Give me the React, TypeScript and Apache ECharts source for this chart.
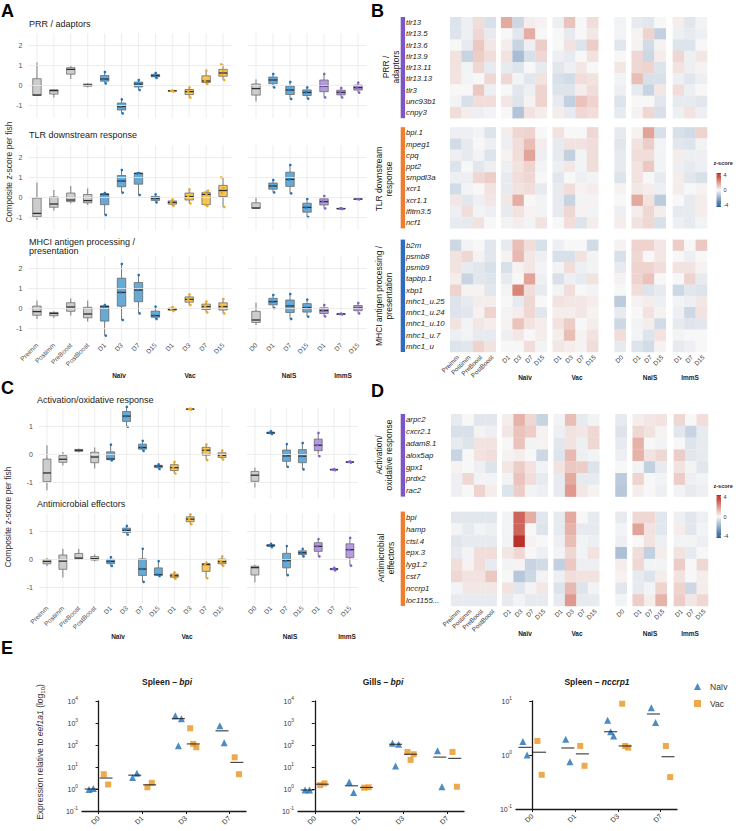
import React, { useEffect, useRef } from 'react';
import * as echarts from 'echarts';

const FONT = '"Liberation Sans", Arial, Helvetica, sans-serif';
const WIDTH = 738;
const HEIGHT = 831;

// ---------------- Composite z-score per fish (A, C) ----------------
const LEFT_CATS = ['Preimm', 'Postimm', 'PreBoost', 'PostBoost', 'D1', 'D3', 'D7', 'D15', 'D1', 'D3', 'D7', 'D15'];
const RIGHT_CATS = ['D0', 'D1', 'D7', 'D15', 'D1', 'D7', 'D15'];
const LEFT_GROUPS = ['ctrl', 'ctrl', 'ctrl', 'ctrl', 'naiv', 'naiv', 'naiv', 'naiv', 'vac', 'vac', 'vac', 'vac'];
const RIGHT_GROUPS = ['ctrl', 'naiv', 'naiv', 'naiv', 'imms', 'imms', 'imms'];
const Y_TICKS_A = [-1, 0, 1, 2];
const Y_TICKS_C = [-1, 0, 1];
const GROUP_NAMES = ['Naïv', 'Vac', 'NaïS', 'ImmS'];

const PRR_LEFT = [
  [-0.53, -0.5, 1.13], [-0.63, -0.28, -0.2], [0.3, 0.78, 0.95], [-0.12, 0.0, 0.1],
  [0.08, 0.3, 0.65], [-1.42, -1.08, -0.72], [-0.25, 0.05, 0.25], [0.35, 0.47, 0.6],
  [-0.33, -0.29, -0.27], [-0.63, -0.33, -0.12], [0.05, 0.2, 0.72], [0.25, 0.5, 0.7, 1.03],
];
const PRR_RIGHT = [
  [-0.83, -0.18, 0.28], [-0.12, 0.25, 0.55], [-0.7, -0.25, 0.15], [-0.68, -0.37, -0.12],
  [-0.62, -0.05, 0.55], [-0.62, -0.37, -0.15], [-0.38, -0.13, 0.12],
];
const TLR_LEFT = [
  [-1.15, -0.82, 0.72], [-0.68, -0.35, 0.35], [-0.32, -0.15, 0.55], [-0.4, -0.18, 0.43],
  [-0.9, 0.13, 0.2], [0.22, 0.8, 1.35], [0.1, 1.18, 1.2], [-0.27, -0.07, 0.13],
  [-0.45, -0.27, -0.12], [-0.32, 0.02, 0.38], [-0.45, -0.38, 0.13, 0.22, 0.32], [-0.5, 0.2, 0.45, 0.98],
];
const TLR_RIGHT = [
  [-0.57, -0.55, -0.03], [0.23, 0.55, 0.85], [0.18, 0.88, 1.6], [-1.0, -0.52, -0.1],
  [-0.57, -0.23, 0.05], [-0.6, -0.58, -0.56], [-0.12, -0.1, -0.09],
];
const MHCI_LEFT = [
  [-0.55, -0.18, 0.37], [-0.5, -0.27, -0.17], [-0.38, 0.05, 0.48], [-0.68, -0.3, 0.37],
  [-1.38, 0.07, 0.15], [-0.6, 0.78, 2.2], [-0.27, 0.9, 1.65], [-0.55, -0.38, 0.07],
  [-0.15, -0.07, 0.05], [0.15, 0.43, 0.68], [-0.22, 0.07, 0.32], [-0.27, 0.07, 0.45],
];
const MHCI_RIGHT = [
  [-0.85, -0.6, 0.27], [0, 0.32, 0.65], [-0.55, 0.1, 0.7], [-0.43, 0.02, 0.42],
  [-0.42, -0.13, 0.15], [-0.32, -0.3, -0.28], [-0.27, 0.0, 0.25],
];
const ACT_LEFT = [
  [-1.29, -0.67, 0.32], [-0.4, -0.18, 0.08], [0.06, 0.14, 0.2], [-0.51, -0.1, 0.24],
  [-0.22, -0.17, 0.34], [0.98, 1.36, 1.69], [0.12, 0.24, 0.48], [-0.53, -0.43, -0.36],
  [-0.69, -0.48, -0.27], [1.59, 1.61, 1.63], [-0.21, 0.14, 0.35], [-0.19, -0.04, 0.14],
];
const ACT_RIGHT = [
  [-1.19, -0.75, -0.48], [0.72, 0.76, 0.82], [-0.45, -0.06, 0.36], [-0.54, -0.07, 0.4],
  [-0.07, 0.32, 0.76], [-0.57, -0.55, -0.53], [-0.3, -0.28, -0.26],
];
const AMP_LEFT = [
  [-0.25, -0.08, 0.05], [-0.65, -0.07, 0.37], [-0.02, 0.04, 0.37], [-0.08, 0.02, 0.17],
  [-0.24, -0.08, 0.07], [0.88, 1.03, 1.19], [-0.81, -0.35, 0.37], [-0.6, -0.55, -0.07],
  [-0.7, -0.59, -0.47], [1.25, 1.43, 1.6], [-0.68, -0.19, -0.12], [-0.24, -0.09, 0.1],
];
const AMP_RIGHT = [
  [-0.83, -0.3, -0.2], [0.43, 0.49, 0.55], [-0.57, -0.05, 0.47], [0.1, 0.23, 0.37],
  [0.1, 0.46, 0.72], [-0.4, -0.35, -0.31], [-0.23, 0.34, 0.76],
];

// ---------------- Heatmaps (B, D) ----------------
const HM_COLS = ['Preimm', 'Postimm', 'PreBoost', 'PostBoost', 'D1', 'D3', 'D7', 'D15', 'D1', 'D3', 'D7', 'D15', 'D0', 'D1', 'D7', 'D15', 'D1', 'D7', 'D15'];
const HM_GROUP_SIZES = [4, 4, 4, 1, 3, 3];
const Z_TICKS = [4, 0, -4];

const PRR_GENES = ['tlr13', 'tlr13.5', 'tlr13.6', 'tlr13.9', 'tlr13.11', 'tlr13.13', 'tlr3', 'unc93b1', 'cnpy3'];
const PRR_Z = [
  [-0.5, -0.2, 0.5, -0.6, 1.5, -0.8, 0.2, 0.1, -0.2, 1.0, 0, 0.5, -0.1, -0.3, -0.4, 0, 0.2, -0.4, -0.1],
  [-0.5, -0.2, 0.6, -0.3, 0, -0.4, 1.4, 0, 0, -0.3, 0, 0.3, -0.1, 0.1, 0.7, -1.0, -0.2, -0.3, -0.2],
  [0, -0.3, 0.9, 0.3, 0.2, -0.9, -0.2, 0.8, 0, 0.4, -0.5, 0.8, -0.4, 0.1, -0.7, 0.1, -0.5, -0.5, 0],
  [0.4, -0.9, 0.8, 0.5, 0.4, -1.5, -0.6, 0.6, -0.2, -0.3, 0, 0.4, 0, 0.6, -0.8, 0.2, 0.6, -0.2, 0.3],
  [0.4, -0.1, 0.6, -0.3, -0.3, -0.5, 0, -0.3, -0.4, -0.2, 0.3, 0, 0.3, 0.6, 0.7, -0.5, 0.4, -0.2, 0.1],
  [0.4, -0.1, 0, 0.6, 0.6, -0.1, -0.4, 0.4, -0.6, -0.7, 0.5, 0.4, -0.1, 1.1, -0.6, -0.6, -0.2, -0.4, -0.2],
  [0, 0, 0.9, -0.2, 0, -0.4, -0.2, 0.7, -0.5, -0.5, 0.2, 0.5, -0.2, -0.3, -0.9, 0.3, 0.5, -0.2, 0],
  [-0.1, -0.6, 0.5, 0.5, 0.3, -0.5, 0.1, 0.7, -0.3, -1.0, 1.0, 0.7, -0.5, 0, 0, -0.4, -0.3, -0.3, -0.4],
  [0.5, 0.2, -0.2, -0.1, 0, -1.3, 0.4, 0.2, 0.2, -0.3, 0.6, 0.5, -0.3, 0.1, 0.6, -0.6, -0.2, 0.4, -0.2],
];
const TLR_GENES = ['bpi.1', 'mpeg1', 'cpq', 'ppt2', 'smpdl3a', 'xcr1', 'xcr1.1', 'ifitm3.5', 'ncf1'];
const TLR_Z = [
  [-0.2, -0.2, -0.1, -0.5, 0.2, 0.6, 0.7, 0, 0.4, 0, 0, 0.6, -0.3, 0.1, 1.6, -0.6, -0.6, -0.7, 0.7],
  [-0.7, -0.3, 0, -0.2, -0.2, 0.5, 1.1, 0.2, -0.3, 0.4, 0.4, 0.5, -0.4, 0.4, 0.8, -0.1, -0.4, -0.5, -0.1],
  [-0.2, -0.3, -0.1, -0.5, 0.1, 0.5, 1.6, -0.2, -0.3, -1.0, -0.1, 0.5, -0.3, 0.5, 0.5, -0.1, 0.2, -0.2, -0.2],
  [-0.5, 0, -0.4, -0.2, -0.2, 0.4, 0.7, -0.1, -0.2, 0.3, -0.1, 0.5, -0.3, 0.4, 0.9, -0.1, -0.2, -0.3, -0.2],
  [-0.2, -0.2, 0.6, 0.8, -0.3, 0.5, 0.6, 0, -0.4, 0, -0.2, -0.1, -0.5, 0.4, 0, -0.3, 0.2, -0.4, -0.6],
  [-0.7, -0.1, 0, 0.4, -0.3, 0.4, 0.5, -0.3, -0.3, 0.5, 0.1, 0.2, 0.1, 0.3, 0.2, -0.2, 0.2, 0, 0.1],
  [0.3, -0.4, -0.2, 0.3, 0.3, 1.4, 0, -0.1, -0.3, -0.9, -0.1, 0.1, 0, 1.5, 0.4, -1.1, 0, -0.3, 0.2],
  [-0.2, 0.5, -0.1, -0.2, -0.3, 0.4, 0.1, -0.1, -0.3, 0.6, 0.1, -0.1, -0.2, 0.2, 0.6, 0.2, -0.3, -0.3, 0.2],
  [-0.3, -0.3, 0.4, 0, -0.1, 0.2, -0.1, 0.4, 0, 0.5, -0.5, 0.2, 0.2, 0.4, 0.6, -0.6, -0.2, -0.3, -0.1],
];
const MHCI_GENES = ['b2m', 'psmb8', 'psmb9', 'tapbp.1', 'xbp1', 'mhc1_u.25', 'mhc1_u.24', 'mhc1_u.10', 'mhc1_u.7', 'mhc1_u'];
const MHCI_Z = [
  [-0.8, -0.1, 0, -0.4, -0.3, 1.1, 0.5, -0.6, -0.2, 0, 0, -0.7, 0.1, 0.7, 0.7, 0.3, 0.8, 0, 0.9],
  [0.4, 0.6, 0.1, -0.4, 0.1, 1.2, 0.3, -0.2, -0.6, -0.6, 0.4, -0.1, -0.6, 0.6, 0, 0.3, 0, -0.2, 0],
  [0.4, -0.3, -0.4, -0.6, -0.6, 0.1, 0.3, -0.1, -0.1, 0.5, -0.2, -0.1, -0.3, 0.7, 0.7, 0.5, 0.4, 0.4, 0.1],
  [0.2, -0.9, -0.4, -0.5, -0.3, 0, 1.6, -0.2, -0.6, -0.2, -0.3, 0.4, 0.1, 0.7, 1.0, 0, 0, 0.7, -0.3],
  [0.7, 0.1, 0.1, -0.4, -0.1, 2.2, 0.5, -0.3, -0.1, 0.5, 0, -0.1, 0, 0.5, -0.5, -0.3, -0.8, -0.4, -0.5],
  [-0.5, -0.3, 0.2, 0.2, 0, -0.3, 0.6, 0, 0.4, 0.3, 0.3, 0.2, -1.1, 0.1, 0.2, -0.2, -0.1, -0.2, 0.3],
  [-0.5, -0.4, 0.1, 0.7, -0.1, 0.2, 0.6, -0.4, 0.2, 0.2, 0.3, 0.1, -0.3, 0, 0.4, 0.1, -0.2, -0.8, 0.4],
  [0.4, -0.1, 0.3, 0.2, 0.1, 1.0, 0.4, 0.2, 0.4, 0.8, 0, 0.2, -0.8, -0.1, 0.2, -0.7, -0.3, -0.5, -0.4],
  [-0.2, -0.1, -0.3, -0.3, -0.2, 0.3, 0, 0.2, 0.2, 1.1, 0.1, 0.4, 0.5, -0.1, -0.5, 0.4, -0.1, 0, 0],
  [-0.5, -0.4, 0.7, 0.4, 0, 0, 0.5, -0.1, 0.3, 0.2, 0.1, 0.5, -0.3, -0.5, -0.7, 0.1, -0.3, -0.2, 0],
];
const ACT_GENES = ['arpc2', 'cxcr2.1', 'adam8.1', 'alox5ap', 'gpx1', 'prdx2', 'rac2'];
const ACT_Z = [
  [-0.3, 0, -0.4, -0.4, 0.2, 1.3, 0.6, -0.9, -0.1, 1.1, -0.3, -0.1, -0.3, 0.2, 0.3, 0.4, 0.6, 0, 0.5],
  [-0.6, -0.6, 0.1, -0.2, 0.3, 1.0, 0.8, 0.1, -0.2, 0.4, 0.3, 0.6, -0.5, 0.6, 0.4, 0.1, -0.4, -0.9, -0.3],
  [-0.3, -0.5, 0.4, 0.4, 0, 1.0, -0.1, 0.1, -0.4, 0.4, -0.2, 0.6, -0.3, 1.3, 0, -0.1, 0, -0.5, -0.3],
  [-0.9, 0, 0.4, 0.5, 0.1, 0.2, 0, -0.8, -0.5, 1.2, -0.2, -0.1, -0.2, 1.3, 0.4, 0.6, 0.8, -0.4, -0.3],
  [0.1, 0, -0.2, -0.5, 0.3, 0.8, 0.4, -0.1, 0.4, 0.9, 0.8, -0.5, 0, -0.1, -1.0, -0.3, 0.4, -0.1, -0.4],
  [-0.2, 0.6, -0.1, -0.1, -0.1, 1.0, 0.5, -0.3, -0.3, 1.5, -0.3, -0.3, -1.1, 0.7, 0, -0.1, 0.8, -0.2, -0.1],
  [-0.2, 0, 0.7, 0.2, -0.5, 0.8, -0.1, -0.2, -0.3, 1.8, 0.3, 0.1, -1.2, 0.2, 0, -0.2, -0.1, -0.3, -0.2],
];
const AMP_GENES = ['bpi', 'hamp', 'ctsl.4', 'epx.3', 'lyg1.2', 'cst7', 'nccrp1', 'loc1155...'];
const AMP_Z = [
  [-0.4, -0.4, -0.4, -0.4, -0.1, 2.8, 1.4, -0.4, -0.3, 1.5, 0, -0.3, -0.3, 0.6, 0.6, -0.4, -0.2, -0.4, -0.2],
  [-0.1, -0.3, -0.1, -0.2, -0.1, 2.8, 0, -0.5, -0.3, 1.3, -0.3, -0.3, -0.1, 1.6, 0.4, -0.4, 0.2, -0.4, -0.1],
  [-0.4, -0.3, -0.3, -0.3, -0.1, 3.8, 0.1, 0, -0.2, 1.1, -0.1, -0.2, -0.2, 0, 0.4, -0.2, -0.1, -0.1, -0.2],
  [-0.3, -0.1, 0.5, 0.5, 0.3, 0.6, 0, -0.2, -0.1, 0.6, -0.1, 0.4, -1.4, 0.5, -1.0, 0.2, 0.4, -0.3, 0],
  [0.5, 0.1, 0.5, -0.3, -0.1, 0.1, -0.9, -0.7, -1.0, 0.9, -0.2, -0.2, 0.2, 0.6, -0.1, -0.1, 0.8, 0, 0.6],
  [0.6, 0.4, 0.4, 0.9, 0, -1.2, -0.8, -0.1, -0.2, 0.5, 0.4, 0.4, 0.1, -0.3, -0.5, 0.2, 0.4, 0, 0.2],
  [-0.1, 0.3, 0.3, 0.3, 0.4, -0.4, -0.1, 0.3, -0.5, 1.2, -0.5, -0.1, -0.4, -0.3, -0.1, 0.7, 0.7, -0.8, 0.2],
  [-0.3, -0.3, -0.3, -0.3, -0.3, -0.1, -0.3, -0.3, -0.3, 1.8, -0.3, -0.3, -0.1, 0.8, 0.2, 1.3, 0.8, 0.3, 0.6],
];

// ---------------- qPCR (E) ----------------
const E_DAYS = ['D0', 'D1', 'D3', 'D7'];
const SPLEEN_BPI_NAIV = [[0.95, 1.05], [3.3, 5.2], [2150, 1580, 93], [755, 127]];
const SPLEEN_BPI_VAC = [[4.7, 1.6], [1.2, 1.9], [575, 79, 112], [27.6, 4.7]];
const GILLS_BPI_NAIV = [[0.9, 0.9], [2.1, 0.7], [120, 108, 11], [55, 1.27]];
const GILLS_BPI_VAC = [[1.5, 1.8], [1.15, 1.2], [48, 38, 21], [48, 1.27]];
const SPLEEN_NCCRP1_NAIV = [[1.77, 1.0], [1.95, 0.75], [4.4, 2.25, 2.7], [7.5, 4.0]];
const SPLEEN_NCCRP1_VAC = [[1.82, 0.43], [1.47, 0.63], [8.9, 1.37, 1.47], [1.47, 0.39]];

// ---------------- styling ----------------
const BOX_STYLE: any = {
  ctrl: { fill: '#cdcdcd', point: null },
  naiv: { fill: '#68aad6', point: '#1d76c0' },
  vac: { fill: '#f5c559', point: '#f0a91c' },
  imms: { fill: '#b49be0', point: '#8360cf' },
};
const HM_COLORS = ['#24588f', '#8ea9c8', '#f7f7f7', '#dd8f82', '#b5261e'];
const BLOCK_COLORS = { purple: '#7d55c7', orange: '#ee7d2e', blue: '#2f6cbf' };
const NAIV_COLOR = '#1f6fb6';
const VAC_COLOR = '#e8951f';
const TEXT = '#1a1a1a';
const TICK_TEXT = '#4d4d4d';
const GRID_LINE = '#e8e8e8';
const POINT_JITTER_PX = [1.2, -1.1, 0.3, -1.8, 1.9];

function quantile(sorted: number[], p: number) {
  const h = (sorted.length - 1) * p;
  const lo = Math.floor(h);
  const hi = Math.ceil(h);
  return sorted[lo] + (h - lo) * (sorted[hi] - sorted[lo]);
}
function fiveNum(values: number[]) {
  const s = [...values].sort((a, b) => a - b);
  return [s[0], quantile(s, 0.25), quantile(s, 0.5), quantile(s, 0.75), s[s.length - 1]];
}
function median(values: number[]) {
  return quantile([...values].sort((a, b) => a - b), 0.5);
}

function txt(x: number, y: number, text: string, o: any = {}) {
  return {
    type: 'text', x, y, silent: true, rotation: o.rot || 0,
    style: {
      text, fill: o.fill || TEXT, fontSize: o.size || 9, fontFamily: FONT,
      fontWeight: o.weight || 'normal', fontStyle: o.style || 'normal',
      align: o.align || 'left', verticalAlign: o.va || 'middle',
      lineHeight: o.lh, rich: o.rich,
    },
  };
}

function buildOption() {
  const grids: any[] = [];
  const xAxes: any[] = [];
  const yAxes: any[] = [];
  const series: any[] = [];
  const graphics: any[] = [];
  const heatSeries: number[] = [];

  const addGrid = (grid: any, x: any, y: any) => {
    const i = grids.length;
    grids.push({ ...grid, containLabel: false });
    xAxes.push({ ...x, gridIndex: i });
    yAxes.push({ ...y, gridIndex: i });
    return i;
  };

  // ---------- boxplot panels ----------
  const boxLayouts: any = {
    A: { left: { left: 28.5, width: 203 }, right: { left: 247.5, width: 119 }, min: -1.65, max: 2.6, height: 85, ticks: Y_TICKS_A, titleX: 29 },
    C: { left: { left: 39, width: 191 }, right: { left: 247, width: 110.8 }, min: -1.6, max: 1.65, height: 91, ticks: Y_TICKS_C, titleX: 37 },
  };
  const boxPanels = [
    { title: 'PRR / adaptors', titleY: 23.5, layout: 'A', top: 33, left: PRR_LEFT, right: PRR_RIGHT, labels: false },
    { title: 'TLR downstream response', titleY: 135, layout: 'A', top: 145, left: TLR_LEFT, right: TLR_RIGHT, labels: false },
    { title: 'MHCI antigen processing /\npresentation', titleY: 246.3, layout: 'A', top: 256, left: MHCI_LEFT, right: MHCI_RIGHT, labels: true },
    { title: 'Activation/oxidative response', titleY: 400, layout: 'C', top: 408, left: ACT_LEFT, right: ACT_RIGHT, labels: false },
    { title: 'Antimicrobial effectors', titleY: 504, layout: 'C', top: 513, left: AMP_LEFT, right: AMP_RIGHT, labels: true },
  ];

  const boxSeries = (rows: number[][], groups: string[], g: number) => ({
    type: 'custom', xAxisIndex: g, yAxisIndex: g, z: 3, silent: true,
    data: rows.map((r, i) => [i, ...fiveNum(r)]),
    encode: { x: 0, y: [1, 2, 3, 4, 5] },
    renderItem: (params: any, api: any) => {
      const i = params.dataIndex;
      const cs = params.coordSys;
      const cx = api.coord([i, 0])[0];
      const yv = (d: number) => api.coord([i, api.value(d)])[1];
      const bw = api.size([1, 0])[0] * 0.5;
      const st = BOX_STYLE[groups[i]];
      const lineStyle = { stroke: '#5f5f5f', lineWidth: 0.8 };
      const children: any[] = [
        { type: 'line', shape: { x1: cx, y1: cs.y, x2: cx, y2: cs.y + cs.height }, style: { stroke: GRID_LINE, lineWidth: 0.8 } },
        { type: 'line', shape: { x1: cx, y1: yv(1), x2: cx, y2: yv(2) }, style: lineStyle },
        { type: 'line', shape: { x1: cx, y1: yv(4), x2: cx, y2: yv(5) }, style: lineStyle },
        { type: 'rect', shape: { x: cx - bw / 2, y: yv(4), width: bw, height: Math.max(yv(2) - yv(4), 0.6) }, style: { fill: st.fill, stroke: '#5f5f5f', lineWidth: 0.7 } },
        { type: 'line', shape: { x1: cx - bw / 2, y1: yv(3), x2: cx + bw / 2, y2: yv(3) }, style: { stroke: '#2e2e2e', lineWidth: 1.3 } },
      ];
      if (st.point) {
        rows[i].forEach((v, k) => {
          children.push({ type: 'circle', shape: { cx: cx + POINT_JITTER_PX[k], cy: api.coord([i, v])[1], r: 1.3 }, style: { fill: st.point } });
        });
      }
      return { type: 'group', children };
    },
  });

  const gridLineSeries = (g: number, ticks: number[]) => ({
    type: 'line', xAxisIndex: g, yAxisIndex: g, data: [], z: 1, silent: true,
    markLine: {
      silent: true, symbol: ['none', 'none'], label: { show: false },
      lineStyle: { color: GRID_LINE, width: 0.8, type: 'solid' },
      data: ticks.map((v) => ({ yAxis: v })),
    },
  });

  boxPanels.forEach((p) => {
    const L = boxLayouts[p.layout];
    const yBase = {
      type: 'value', min: L.min, max: L.max, splitNumber: 4,
      axisLine: { show: false }, axisTick: { show: false }, splitLine: { show: false },
    };
    const xBase = (cats: string[]) => ({
      type: 'category', boundaryGap: true, data: cats.map((c, i) => `${i}|${c}`),
      axisLine: { show: false }, axisTick: { show: false }, splitLine: { show: false },
      axisLabel: p.labels
        ? { show: true, interval: 0, rotate: 45, fontSize: 6.5, color: TICK_TEXT, fontFamily: FONT, margin: 3, formatter: (v: string) => v.split('|')[1] }
        : { show: false },
    });
    const gl = addGrid({ left: L.left.left, width: L.left.width, top: p.top, height: L.height }, xBase(LEFT_CATS), {
      ...yBase,
      axisLabel: { show: true, fontSize: 7, color: TICK_TEXT, fontFamily: FONT, margin: 6, formatter: (v: number) => (Math.abs(v - Math.round(v)) < 1e-9 ? String(Math.round(v)) : '') },
    });
    series.push(gridLineSeries(gl, L.ticks));
    series.push(boxSeries(p.left, LEFT_GROUPS, gl));
    const gr = addGrid({ left: L.right.left, width: L.right.width, top: p.top, height: L.height }, xBase(RIGHT_CATS), { ...yBase, axisLabel: { show: false } });
    series.push(gridLineSeries(gr, L.ticks));
    series.push(boxSeries(p.right, RIGHT_GROUPS, gr));
    graphics.push(txt(L.titleX, p.titleY, p.title, { size: 9, lh: 9.5 }));
  });

  // ---------- heatmap panels ----------
  const HM_GROUP_GAPS = [0, 0.45, 0.5, 1.4, 0.5, 0.6];
  const colStarts: number[] = [];
  let colTotal = 0;
  HM_GROUP_SIZES.forEach((n, g) => {
    colTotal += HM_GROUP_GAPS[g];
    for (let k = 0; k < n; k++) {
      colStarts.push(colTotal);
      colTotal += 1;
    }
  });

  const cellRender = (params: any, api: any) => {
    const x = api.value(0);
    const y = api.value(1);
    const p0 = api.coord([x, y]);
    const p1 = api.coord([x + 1, y + 1]);
    return {
      type: 'rect',
      shape: { x: p0[0], y: p0[1], width: p1[0] - p0[0] + 0.25, height: p1[1] - p0[1] + 0.25 },
      style: { fill: api.visual('color') },
    };
  };

  const addHeatmap = (blocks: any[], gaps: number[], box: any, labelOffset: number) => {
    let y = 0;
    const placed = blocks.map((b, i) => {
      y += gaps[i];
      const start = y;
      y += b.genes.length;
      return { ...b, start, end: y };
    });
    const rowTotal = y;
    const g = addGrid(box, { type: 'value', min: 0, max: colTotal, show: false }, { type: 'value', min: 0, max: rowTotal, inverse: true, show: false });
    const cells: number[][] = [];
    const geneRows: any[] = [];
    placed.forEach((b) => {
      b.values.forEach((row: number[], r: number) => {
        row.forEach((v, c) => cells.push([colStarts[c], b.start + r, v]));
        geneRows.push({ name: b.genes[r], y: b.start + r + 0.5 });
      });
    });
    series.push({ type: 'custom', xAxisIndex: g, yAxisIndex: g, silent: true, data: cells, encode: { x: 0, y: 1 }, renderItem: cellRender });
    heatSeries.push(series.length - 1);
    // gene names
    series.push({
      type: 'custom', xAxisIndex: g, yAxisIndex: g, silent: true,
      data: geneRows.map((r) => [0, r.y]),
      renderItem: (params: any, api: any) => {
        const p = api.coord([0, api.value(1)]);
        return { type: 'text', x: p[0] - labelOffset, y: p[1], style: { text: geneRows[params.dataIndex].name, fill: '#222', fontSize: 7.8, fontStyle: 'italic', fontFamily: FONT, align: 'left', verticalAlign: 'middle' } };
      },
    });
    // module colour bars
    series.push({
      type: 'custom', xAxisIndex: g, yAxisIndex: g, silent: true,
      data: placed.map((b) => [0, b.start, b.end]),
      renderItem: (params: any, api: any) => {
        const p0 = api.coord([0, api.value(1)]);
        const p1 = api.coord([0, api.value(2)]);
        return { type: 'rect', shape: { x: p0[0] - labelOffset - 5.3, y: p0[1], width: 4.4, height: p1[1] - p0[1] }, style: { fill: placed[params.dataIndex].color } };
      },
    });
    // column labels
    series.push({
      type: 'custom', xAxisIndex: g, yAxisIndex: g, silent: true,
      data: colStarts.map((x) => [x + 0.5, rowTotal]),
      renderItem: (params: any, api: any) => {
        const p = api.coord([api.value(0), api.value(1)]);
        return { type: 'text', x: p[0] + 2, y: p[1] + 4, rotation: Math.PI / 4, style: { text: HM_COLS[params.dataIndex], fill: '#333', fontSize: 6.3, fontFamily: FONT, align: 'right', verticalAlign: 'middle' } };
      },
    });
  };

  addHeatmap(
    [
      { genes: PRR_GENES, values: PRR_Z, color: BLOCK_COLORS.purple },
      { genes: TLR_GENES, values: TLR_Z, color: BLOCK_COLORS.orange },
      { genes: MHCI_GENES, values: MHCI_Z, color: BLOCK_COLORS.blue },
    ],
    [0, 0.8, 1.0],
    { left: 450, top: 17, width: 257, height: 335 },
    44,
  );
  addHeatmap(
    [
      { genes: ACT_GENES, values: ACT_Z, color: BLOCK_COLORS.purple },
      { genes: AMP_GENES, values: AMP_Z, color: BLOCK_COLORS.orange },
    ],
    [0, 1.27],
    { left: 451, top: 414, width: 257, height: 192 },
    45,
  );

  // module titles beside the heatmaps
  graphics.push(txt(391, 67, 'PRR /\nadaptors', { rot: Math.PI / 2, align: 'center', size: 8.5, lh: 10 }));
  graphics.push(txt(384, 179, 'TLR downstream\nresponse', { rot: Math.PI / 2, align: 'center', size: 8.5, lh: 10 }));
  graphics.push(txt(384, 296, 'MHCI antigen processing /\npresentation', { rot: Math.PI / 2, align: 'center', size: 8.5, lh: 10 }));
  graphics.push(txt(384, 455, 'Activation/\noxidative response', { rot: Math.PI / 2, align: 'center', size: 8.5, lh: 10 }));
  graphics.push(txt(386, 558, 'Antimicrobial\neffectors', { rot: Math.PI / 2, align: 'center', size: 8.5, lh: 10 }));

  // z-score colour keys
  const zKey = (x: number, titleY: number, barTop: number, barH: number) => {
    graphics.push(txt(x - 3, titleY, 'z-score', { size: 5.5, weight: 'bold' }));
    graphics.push({
      type: 'rect', silent: true, shape: { x, y: barTop, width: 4.5, height: barH },
      style: {
        fill: {
          type: 'linear', x: 0, y: 0, x2: 0, y2: 1,
          colorStops: HM_COLORS.slice().reverse().map((c, i) => ({ offset: i / (HM_COLORS.length - 1), color: c })),
        },
      },
    });
    Z_TICKS.forEach((v, i) => {
      const yy = barTop + 2 + ((barH - 4) * i) / (Z_TICKS.length - 1);
      graphics.push({ type: 'line', silent: true, shape: { x1: x, y1: yy, x2: x + 1.2, y2: yy }, style: { stroke: '#fff', lineWidth: 0.6 } });
      graphics.push({ type: 'line', silent: true, shape: { x1: x + 3.3, y1: yy, x2: x + 4.5, y2: yy }, style: { stroke: '#fff', lineWidth: 0.6 } });
      graphics.push(txt(x + 7, yy, String(v), { size: 5.5, fill: '#333' }));
    });
  };
  zKey(716.5, 163, 173, 34);
  zKey(716.5, 486, 495, 43);

  // ---------- qPCR panels ----------
  const ePlots = [
    { title: 'Spleen – ', gene: 'bpi', naiv: SPLEEN_BPI_NAIV, vac: SPLEEN_BPI_VAC, yMax: 10000, grid: { left: 82, top: 701, width: 164, height: 110 }, cx: 167 },
    { title: 'Gills – ', gene: 'bpi', naiv: GILLS_BPI_NAIV, vac: GILLS_BPI_VAC, yMax: 10000, grid: { left: 298, top: 701, width: 166, height: 110 }, cx: 383 },
    { title: 'Spleen – ', gene: 'nccrp1', naiv: SPLEEN_NCCRP1_NAIV, vac: SPLEEN_NCCRP1_VAC, yMax: 10, grid: { left: 516, top: 701, width: 161, height: 108 }, cx: 597 },
  ];
  const DODGE = 0.17;
  const SPREAD: any = { 1: [0], 2: [-0.05, 0.05], 3: [-0.07, 0.07, 0] };
  const pointsOf = (groups: number[][], shift: number) => {
    const out: number[][] = [];
    groups.forEach((vals, d) => vals.forEach((v, k) => out.push([d + shift + SPREAD[vals.length][k], v])));
    return out;
  };
  ePlots.forEach((p) => {
    const g = addGrid(
      p.grid,
      {
        type: 'value', min: -0.38, max: 3.38,
        axisLine: { show: true, lineStyle: { color: TEXT, width: 1.3 } },
        axisTick: { show: true, length: 3, customValues: [0, 1, 2, 3], lineStyle: { color: TEXT, width: 1 } },
        axisLabel: { show: true, customValues: [0, 1, 2, 3], rotate: 45, fontSize: 7, color: '#333', fontFamily: FONT, margin: 6, formatter: (v: number) => E_DAYS[Math.round(v)] },
        splitLine: { show: false },
      },
      {
        type: 'log', logBase: 10, min: 0.1, max: p.yMax,
        axisLine: { show: true, lineStyle: { color: TEXT, width: 1.3 } },
        axisTick: { show: true, length: 3, lineStyle: { color: TEXT, width: 1 } },
        minorTick: { show: false }, splitLine: { show: false },
        axisLabel: {
          show: true, margin: 4, color: '#333', fontFamily: FONT,
          formatter: (v: number) => `{b|10}{s|${Math.round(Math.log10(v))}}`,
          rich: {
            b: { fontSize: 7, color: '#333', fontFamily: FONT, lineHeight: 11 },
            s: { fontSize: 4.8, color: '#333', fontFamily: FONT, lineHeight: 5, verticalAlign: 'top' },
          },
        },
      },
    );
    series.push({ name: 'Naïv', type: 'scatter', xAxisIndex: g, yAxisIndex: g, symbol: 'triangle', symbolSize: 7, itemStyle: { color: NAIV_COLOR }, data: pointsOf(p.naiv, -DODGE), z: 4, silent: true });
    series.push({ name: 'Vac', type: 'scatter', xAxisIndex: g, yAxisIndex: g, symbol: 'rect', symbolSize: 6, itemStyle: { color: VAC_COLOR }, data: pointsOf(p.vac, DODGE), z: 4, silent: true });
    series.push({
      name: 'median', type: 'scatter', xAxisIndex: g, yAxisIndex: g, symbol: 'rect', symbolSize: [13, 1.2], itemStyle: { color: '#1a1a1a' }, z: 5, silent: true,
      data: [...p.naiv.map((v, d) => [d - DODGE, median(v)]), ...p.vac.map((v, d) => [d + DODGE, median(v)])],
    });
    graphics.push(txt(p.cx, 682, `{n|${p.title}}{i|${p.gene}}`, {
      align: 'center',
      rich: {
        n: { fontSize: 8.5, fontWeight: 'bold', fontFamily: FONT, fill: TEXT },
        i: { fontSize: 8.5, fontWeight: 'bold', fontStyle: 'italic', fontFamily: FONT, fill: TEXT },
      },
    }));
  });
  graphics.push(txt(40, 752, '{n|Expression relative to }{i|eef1a1}{n| (log}{s|10}{n|)}', {
    rot: Math.PI / 2, align: 'center',
    rich: {
      n: { fontSize: 8.5, fontFamily: FONT, fill: '#333', lineHeight: 12 },
      i: { fontSize: 8.5, fontStyle: 'italic', fontFamily: FONT, fill: '#333', lineHeight: 12 },
      s: { fontSize: 6, fontFamily: FONT, fill: '#333', lineHeight: 6, verticalAlign: 'bottom' },
    },
  }));

  // ---------- shared annotations ----------
  graphics.push(txt(9, 172, 'Composite z-score per fish', { rot: Math.PI / 2, align: 'center', size: 8.5, fill: '#333' }));
  graphics.push(txt(8, 517, 'Composite z-score per fish', { rot: Math.PI / 2, align: 'center', size: 8.5, fill: '#333' }));

  const groupRow = (xs: number[], y: number) => xs.forEach((x, i) => graphics.push(txt(x, y, GROUP_NAMES[i], { align: 'center', size: 6.5, weight: 'bold', fill: '#222' })));
  groupRow([119, 190, 289, 343], 375);
  groupRow([118, 187, 290, 347], 636);
  groupRow([525, 577, 650, 690], 377);
  groupRow([525, 577, 650, 690], 633);

  [['A', 1, 2], ['B', 371, 2], ['C', 1, 379], ['D', 371, 382], ['E', 1, 639]].forEach(([l, x, y]: any) => {
    graphics.push(txt(x, y, l, { size: 18, weight: 'bold', va: 'top', fill: '#000' }));
  });

  return {
    animation: false,
    backgroundColor: '#ffffff',
    textStyle: { fontFamily: FONT },
    grid: grids,
    xAxis: xAxes,
    yAxis: yAxes,
    series,
    visualMap: [{
      type: 'continuous', show: false, min: -4, max: 4, dimension: 2, seriesIndex: heatSeries,
      inRange: { color: HM_COLORS },
    }],
    legend: {
      data: [{ name: 'Naïv', icon: 'triangle' }, { name: 'Vac', icon: 'rect' }],
      orient: 'vertical', left: 689, top: 677, itemWidth: 7, itemHeight: 7, itemGap: 8,
      selectedMode: false,
      textStyle: { fontSize: 8.5, color: '#333', fontFamily: FONT, padding: [0, 0, 0, 4] },
    },
    graphic: graphics,
  };
}

export default function App() {
  const ref = useRef<HTMLDivElement>(null);
  useEffect(() => {
    if (!ref.current) return;
    const chart = echarts.init(ref.current, null, { renderer: 'svg', width: WIDTH, height: HEIGHT });
    chart.setOption(buildOption() as any);
    return () => chart.dispose();
  }, []);
  return <div ref={ref} style={{ position: 'absolute', left: 0, top: 0, width: WIDTH, height: HEIGHT, background: '#fff' }} />;
}
